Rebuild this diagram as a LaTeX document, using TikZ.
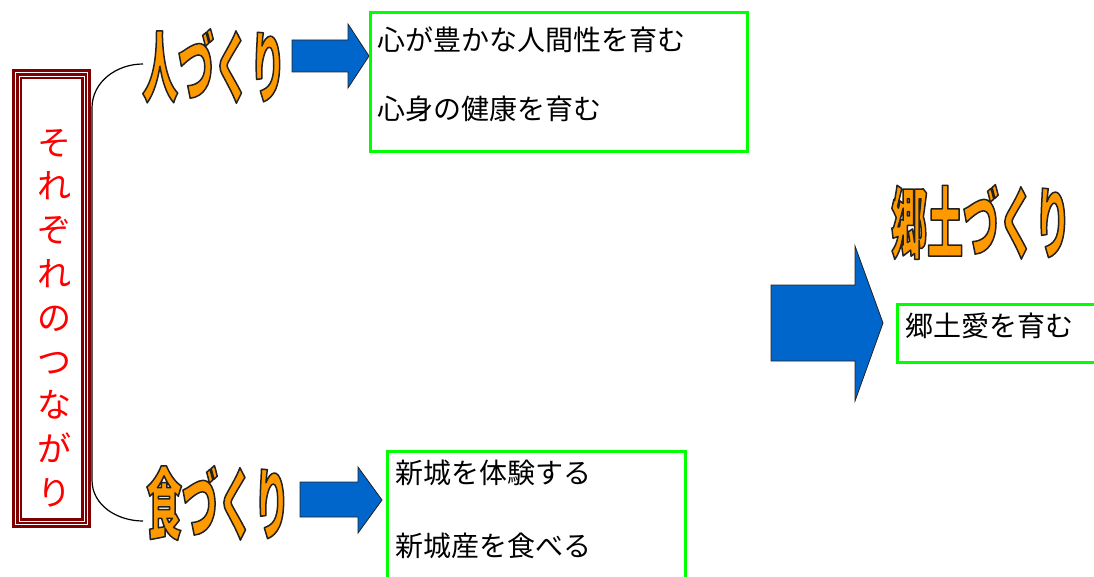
\documentclass[tikz,border=0pt]{standalone}
\usepackage{fontspec}
\setmainfont{Noto Sans CJK JP}
\newfontfamily\jp{Noto Sans CJK JP}
\newfontfamily\hdfont[FakeStretch=0.46]{Noto Sans CJK JP}
\definecolor{hdorange}{HTML}{FF9900}
\definecolor{hdline}{HTML}{222222}
\definecolor{boxgreen}{HTML}{00FF00}
\definecolor{arrblue}{HTML}{0066CC}
\definecolor{framered}{HTML}{7F0000}
\newcommand\outlined[1]{\special{pdf:literal direct 0.13 0.13 0.13 RG 1.5 w 1 j 2 Tr}#1\special{pdf:literal direct 0 Tr}}
\tikzset{
  hd/.style={inner sep=0pt, text=hdorange, font=\hdfont\bfseries\fontsize{78}{80}\selectfont},
  body/.style={inner sep=0pt, anchor=west, font=\jp\fontsize{28}{30}\selectfont, text=black},
  gbox/.style={draw=boxgreen, line width=3pt},
  barrow/.style={fill=arrblue, draw=hdline, line width=0.8pt, line join=miter},
  brace/.style={draw=black, line width=1.2pt},
}
\begin{document}
\begin{tikzpicture}[x=1pt,y=-1pt]
\useasboundingbox (0,0) rectangle (1094,577);
\clip (0,0) rectangle (1094,577);

% left framed box
\fill[framered] (12,69) rectangle (91,528);
\fill[white] (22,79) rectangle (81,518);
\draw[white, line width=0.9pt] (15.5,72.5) rectangle (87.5,524.5);
\draw[white, line width=0.9pt] (19,76) rectangle (84,521);
\node[inner sep=0pt, align=center, text=red, font=\jp\fontsize{34}{43.8}\selectfont] (tsunagari) at (54,318)
  {そ\\れ\\ぞ\\れ\\の\\つ\\な\\が\\り};

% headings
\node[hd] (hito) at (214,66) {\outlined{人づくり}};
\node[hd] (shoku) at (218,503) {\outlined{食づくり}};
\node[hd] (kyodo) at (981,222) {\outlined{郷土づくり}};

% brace
\coordinate (bt) at (143,64);
\coordinate (bb) at (143,521);
\draw[brace] (bt) to[out=180,in=90] (92,108) -- (92,480) to[out=-90,in=180] (bb);

% arrows
\draw[barrow] (292,40) -- (348,40) -- (348,24) -- (369,56) -- (348,88) -- (348,72) -- (292,72) -- cycle;
\draw[barrow] (300,482) -- (358,482) -- (358,467) -- (382,500) -- (358,533) -- (358,517) -- (300,517) -- cycle;
\draw[barrow] (771,285) -- (855,285) -- (855,246) -- (883,323) -- (855,401) -- (855,361) -- (771,361) -- cycle;

% green boxes
\draw[gbox] (370,13) rectangle (747,152);
\node[body] (h1) at (377,40) {心が豊かな人間性を育む};
\node[body] (h2) at (377,109) {心身の健康を育む};

\draw[gbox] (387,451) rectangle (685,590);
\node[body] (s1) at (395,473) {新城を体験する};
\node[body] (s2) at (395,546) {新城産を食べる};

\draw[gbox] (897,304) rectangle (1110,362);
\node[body] (k1) at (905,326) {郷土愛を育む};
\end{tikzpicture}
\end{document}
